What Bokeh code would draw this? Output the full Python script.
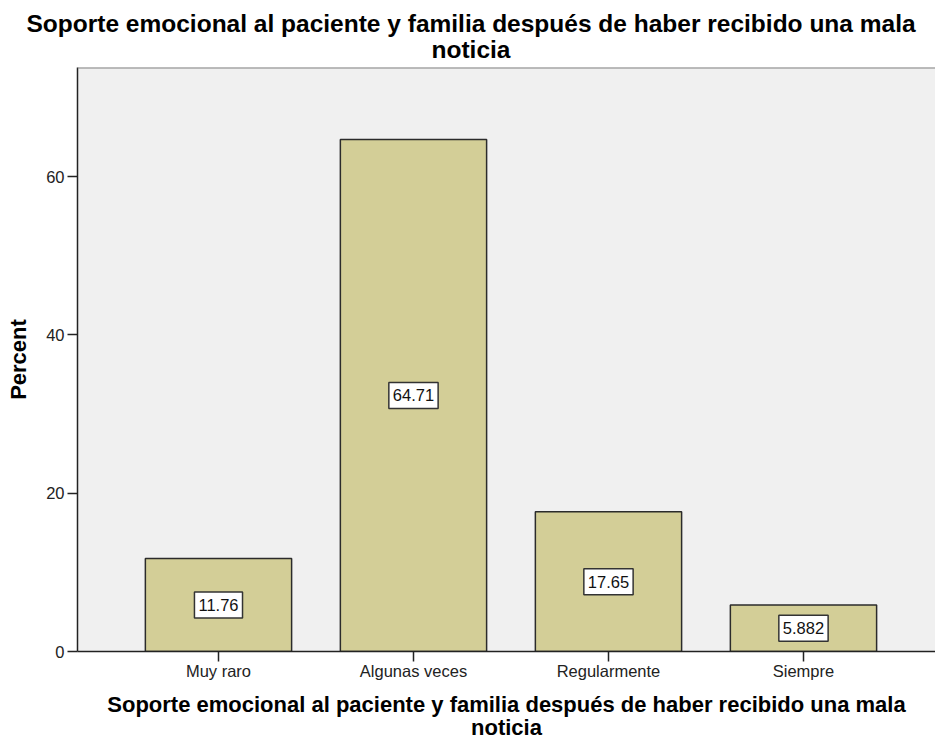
from bokeh.plotting import figure
from bokeh.models import Range1d, FixedTicker, Label, Span, Title
from bokeh.embed import file_html
from bokeh.resources import INLINE

categories = ["Muy raro", "Algunas veces", "Regularmente", "Siempre"]
percents = [11.76, 64.71, 17.65, 5.882]
y_ticks = [0, 20, 40, 60]
title_lines = ["Soporte emocional al paciente y familia después de haber recibido una mala", "noticia"]
x_label_lines = ["Soporte emocional al paciente y familia después de haber recibido una mala", "noticia"]
y_label = "Percent"

FONT = "Liberation Sans"
xs = list(range(len(categories)))
X_START, X_END = -0.723, 3.677
Y_END = 73.8

p = figure(width=935, height=740, output_backend="svg", toolbar_location=None,
           x_range=Range1d(X_START, X_END), y_range=Range1d(0, Y_END),
           min_border_left=77, min_border_right=0, min_border_top=67, min_border_bottom=89)
p.background_fill_color = "#F0F0F0"
p.border_fill_color = "white"
p.outline_line_color = None
p.grid.visible = False

p.vbar(x=xs, top=percents, width=0.75, bottom=0, fill_color="#D3CE97",
       line_color="#2b2b2b", line_width=1.5)

p.add_layout(Span(location=Y_END, dimension="width", line_color="#808080", line_width=2))

for ax in (p.xaxis, p.yaxis):
    ax.minor_tick_line_color = None
    ax.major_tick_out = 10
    ax.major_tick_in = 0
    ax.axis_line_color = "#222222"
    ax.axis_line_width = 1.5
    ax.major_tick_line_color = "#222222"
    ax.major_tick_line_width = 1.5
    ax.major_label_text_font = FONT
    ax.major_label_text_font_size = "16.5px"
    ax.major_label_text_color = "#222222"
    ax.axis_label_text_font = FONT
    ax.axis_label_text_font_size = "22px"
    ax.axis_label_text_font_style = "bold"
    ax.axis_label_text_color = "#000000"

p.yaxis.ticker = FixedTicker(ticks=y_ticks)
p.yaxis.major_label_standoff = 3
p.yaxis.axis_label = y_label
p.yaxis.axis_label_standoff = 12

p.xaxis.ticker = FixedTicker(ticks=xs)
p.xaxis.major_label_overrides = {i: c for i, c in zip(xs, categories)}
p.xaxis.major_label_standoff = 0
p.xaxis.axis_label = x_label_lines[0]
p.xaxis.axis_label_standoff = 9

# second line of the x axis title, placed just below the axis
p.add_layout(Title(text=x_label_lines[1], align="center", standoff=-10,
                   vertical_align="top", text_font=FONT, text_font_size="22px",
                   text_font_style="bold", text_color="#000000"), "below")

for x, v in zip(xs, percents):
    p.add_layout(Label(x=x, y=v / 2, text=f"{v:.4g}", text_align="center",
                       text_baseline="middle", text_font=FONT, text_font_size="16.5px",
                       text_color="#111111", background_fill_color="white",
                       border_line_color="#333333", border_line_width=1.5,
                       padding=dict(left=4, right=4, top=7, bottom=7)))

# two title lines: the second line (closest to the frame) is added first
title_offsets = [-51, 354]
title_standoffs = [-16, 10]
for line, off, so in reversed(list(zip(title_lines, title_offsets, title_standoffs))):
    p.add_layout(Title(text=line, align="left", offset=off, standoff=so,
                       vertical_align="bottom",
                       text_font=FONT, text_font_size="24.5px", text_font_style="bold",
                       text_color="#000000"), "above")

open("out.html", "w").write(file_html(p, INLINE))
